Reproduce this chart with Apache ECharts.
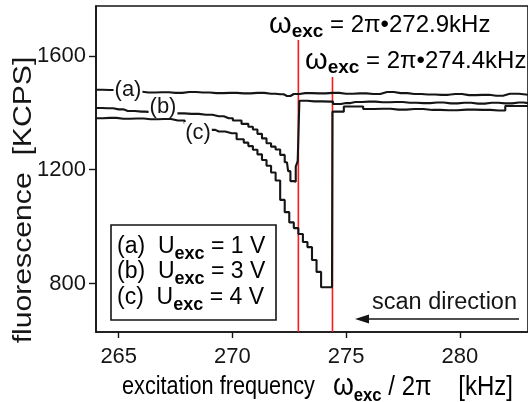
<!DOCTYPE html>
<html>
<head>
<meta charset="utf-8">
<script src="https://cdn.jsdelivr.net/npm/echarts@6/dist/echarts.min.js"></script>
<style>
  html, body { margin: 0; padding: 0; background: #fff; }
  #chart { width: 528px; height: 402px; }
</style>
</head>
<body>
<div id="chart"></div>
<script>
// Fluorescence vs. excitation frequency for three drive amplitudes
const freqA = [264.0, 264.6, 265.2, 265.8, 266.3, 266.9, 267.5, 268.1, 268.7, 269.3, 269.9, 270.5, 271.1, 271.7, 272.1, 272.4, 272.7, 273.2, 273.8, 274.4, 275.0, 275.6, 276.2, 276.8, 277.4, 278.0, 278.6, 279.2, 279.8, 280.4, 281.0, 281.6, 282.2, 283.0];
const fluorA = [1481, 1480, 1478, 1474, 1471, 1472, 1470, 1473, 1471, 1469, 1470, 1468, 1470, 1467, 1465, 1459, 1466, 1469, 1468, 1470, 1467, 1468, 1466, 1473, 1469, 1466, 1464, 1463, 1466, 1462, 1463, 1460, 1467, 1463];

const freqB = [264.0, 264.5, 265.0, 265.4, 266.0, 266.3, 267.0, 267.57, 268.2, 268.84, 269.4, 269.84, 270.2, 270.6, 270.8, 271.0, 271.2, 271.4, 271.6, 271.8, 272.0, 272.2, 272.4, 272.5, 272.6, 272.75, 272.82, 272.92, 272.97, 273.6, 274.3, 274.55, 275.0, 275.4, 276.0, 276.6, 277.2, 277.8, 278.4, 279.0, 279.6, 280.2, 280.8, 281.4, 282.0, 282.6, 283.0];
const fluorB = [1417, 1416, 1412, 1406, 1404, 1403, 1401, 1398, 1396, 1393, 1388, 1381, 1373, 1361, 1351, 1341, 1326, 1310, 1293, 1281, 1271, 1252, 1226, 1195, 1160, 1158, 1211, 1230, 1442, 1440, 1439, 1431, 1434, 1438, 1439, 1437, 1438, 1435, 1434, 1436, 1433, 1435, 1432, 1435, 1433, 1436, 1434];

const freqC = [264.0, 264.6, 265.2, 265.8, 266.4, 267.0, 267.6, 268.2, 268.8, 269.1, 269.4, 269.97, 270.4, 270.6, 270.8, 271.0, 271.2, 271.4, 271.6, 271.8, 272.0, 272.2, 272.4, 272.6, 272.8, 273.0, 273.2, 273.4, 273.6, 273.8, 274.0, 274.38, 274.42, 274.8, 275.0, 275.6, 275.9, 276.6, 277.3, 278.0, 278.8, 279.5, 280.3, 281.0, 281.7, 282.3, 283.0];
const fluorC = [1381, 1382, 1379, 1380, 1377, 1378, 1373, 1362, 1344, 1340, 1334, 1328, 1307, 1295, 1283, 1270, 1254, 1234, 1214, 1190, 1162, 1094, 1051, 1015, 995, 974, 946, 928, 883, 841, 787, 787, 1404, 1404, 1422, 1422, 1413, 1414, 1411, 1413, 1410, 1409, 1411, 1410, 1408, 1424, 1424];

// resonance markers (frequency, top end of the vertical line)
const markerFreq = [272.9, 274.4];
const markerTop = [1656, 1526];

const xTicks = [265, 270, 275, 280];
const yTicks = [800, 1200, 1600];
const xRange = [264, 283];
const yRange = [630, 1775];

const FONT = "'Liberation Sans', Arial, Helvetica, sans-serif";
const INK = '#151515';
const RED = '#ff1a1a';

function pairs(xs, ys) { return xs.map((x, i) => [x, ys[i]]); }

const curveSeries = [[freqA, fluorA], [freqB, fluorB], [freqC, fluorC]].map(([f, v]) => ({
  type: 'line',
  data: pairs(f, v),
  step: 'middle',
  showSymbol: false,
  lineStyle: { color: INK, width: 2.1 },
  z: 3,
  animation: false
}));

const markerSeries = markerFreq.map((f, i) => ({
  type: 'line',
  data: [[f, yRange[0]], [f, markerTop[i]]],
  showSymbol: false,
  lineStyle: { color: RED, width: 1.6 },
  z: 2,
  animation: false
}));

// rich-text styles: t = body text, w = omega, s = bold subscript, u = larger tail text
const subRich = (size, color, tail) => ({
  w: { fontFamily: FONT, fontSize: size + 5, color: color, lineHeight: 32, verticalAlign: 'middle' },
  s: { fontFamily: FONT, fontSize: size - 5, fontWeight: 'bold', color: color, lineHeight: 22, verticalAlign: 'bottom' },
  t: { fontFamily: FONT, fontSize: size, color: color, lineHeight: 32, verticalAlign: 'middle' },
  u: { fontFamily: FONT, fontSize: tail || size, color: color, lineHeight: 32, verticalAlign: 'middle' }
});

const plainNum = (v) => String(v);

const chart = echarts.init(document.getElementById('chart'), null, { renderer: 'canvas' });

chart.setOption({
  backgroundColor: '#fff',
  animation: false,
  grid: {
    left: 96, top: 6, right: -4, bottom: 70,
    show: true, borderColor: INK, borderWidth: 1.6, backgroundColor: 'transparent'
  },
  xAxis: {
    type: 'value', min: xRange[0], max: xRange[1],
    axisLine: { show: true, lineStyle: { color: INK, width: 1.6 } },
    axisTick: { show: true, length: 6, customValues: xTicks, lineStyle: { color: INK, width: 1.4 } },
    axisLabel: { customValues: xTicks, formatter: plainNum, fontFamily: FONT, fontSize: 22, color: INK, margin: 14 },
    splitLine: { show: false }
  },
  yAxis: {
    type: 'value', min: yRange[0], max: yRange[1],
    axisLine: { show: true, lineStyle: { color: INK, width: 1.6 } },
    axisTick: { show: true, length: 7, customValues: yTicks, lineStyle: { color: INK, width: 1.4 } },
    axisLabel: { customValues: yTicks, formatter: plainNum, fontFamily: FONT, fontSize: 22, color: INK, margin: 10 },
    splitLine: { show: false }
  },
  series: markerSeries.concat(curveSeries),
  graphic: [
    // y-axis title
    {
      type: 'text', x: 24, y: 200, rotation: Math.PI / 2, scaleX: 1.16, z: 10,
      style: { text: 'fluorescence  [KCPS]', fontFamily: FONT, fontSize: 26, fill: INK, align: 'center', verticalAlign: 'middle' }
    },
    // x-axis title
    {
      type: 'text', x: 122, y: 387, scaleY: 1.15, z: 10,
      style: {
        text: '{t|excitation frequency   }{w|ω}{s|exc}{u| / 2π    [kHz]}',
        rich: subRich(21.7, INK, 24), align: 'left', verticalAlign: 'middle'
      }
    },
    // curve tags
    { type: 'text', x: 128, y: 90, z: 10,
      style: { text: '(a)', fontFamily: FONT, fontSize: 22, fill: INK, align: 'center', verticalAlign: 'middle', backgroundColor: '#fff', padding: [0, 1] } },
    { type: 'text', x: 163, y: 107, z: 10,
      style: { text: '(b)', fontFamily: FONT, fontSize: 22, fill: INK, align: 'center', verticalAlign: 'middle', backgroundColor: '#fff', padding: [0, 1] } },
    { type: 'text', x: 198, y: 133, z: 10,
      style: { text: '(c)', fontFamily: FONT, fontSize: 22, fill: INK, align: 'center', verticalAlign: 'middle', backgroundColor: '#fff', padding: [0, 1] } },
    // resonance annotations
    { type: 'text', x: 269, y: 25, z: 10,
      style: { text: '{w|ω}{s|exc}{t| = 2π•272.9kHz}', rich: subRich(24, RED), align: 'left', verticalAlign: 'middle' } },
    { type: 'text', x: 305, y: 61, z: 10,
      style: { text: '{w|ω}{s|exc}{t| = 2π•274.4kHz}', rich: subRich(24, RED), align: 'left', verticalAlign: 'middle' } },
    // legend box
    { type: 'rect', shape: { x: 111, y: 225, width: 165, height: 95 }, z: 9,
      style: { fill: '#fff', stroke: INK, lineWidth: 1.6 } },
    { type: 'text', x: 117, y: 247, z: 10,
      style: { text: '{t|(a)  U}{s|exc}{t| = 1 V}', rich: subRich(23, INK), align: 'left', verticalAlign: 'middle' } },
    { type: 'text', x: 117, y: 272, z: 10,
      style: { text: '{t|(b)  U}{s|exc}{t| = 3 V}', rich: subRich(23, INK), align: 'left', verticalAlign: 'middle' } },
    { type: 'text', x: 117, y: 298, z: 10,
      style: { text: '{t|(c)  U}{s|exc}{t| = 4 V}', rich: subRich(23, INK), align: 'left', verticalAlign: 'middle' } },
    // scan direction arrow
    { type: 'text', x: 517, y: 303, z: 10,
      style: { text: 'scan direction', fontFamily: FONT, fontSize: 23.5, fill: INK, align: 'right', verticalAlign: 'middle' } },
    { type: 'line', shape: { x1: 366, y1: 319, x2: 519, y2: 319 }, z: 10,
      style: { stroke: INK, lineWidth: 1.6 } },
    { type: 'polygon', shape: { points: [[355, 319], [369, 314.5], [369, 323.5]] }, z: 10,
      style: { fill: INK } }
  ]
});
</script>
</body>
</html>
